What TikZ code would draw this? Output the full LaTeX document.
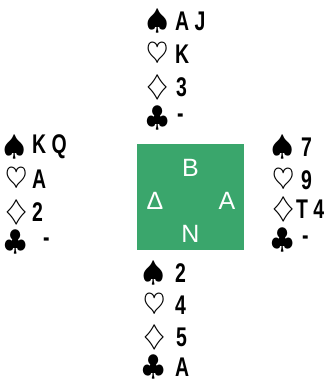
\documentclass[tikz,border=0pt]{standalone}
\usepackage{fontspec}
\newfontfamily\cardfont[FakeStretch=0.72]{Liberation Sans}
\newfontfamily\seatfont{Liberation Sans}
\definecolor{tablegreen}{RGB}{58,166,108}
\begin{document}
\begin{tikzpicture}[x=1pt,y=-1pt,
  suit/.style={inner sep=0pt,anchor=center,scale=1.15,font=\fontsize{24}{24}\selectfont},
  cards/.style={inner sep=0pt,anchor=west,font=\cardfont\bfseries\fontsize{27}{27}\selectfont},
  seat/.style={inner sep=0pt,anchor=center,text=white,font=\seatfont\fontsize{25}{25}\selectfont}]
\useasboundingbox (0,0) rectangle (331,379);
% table
\fill[tablegreen] (137,144) rectangle (244,250);
\node[seat] (sB) at (190.5,168) {Β};
\node[seat] (sD) at (155,201) {Δ};
\node[seat] (sA) at (227,201) {Α};
\node[seat] (sN) at (190.5,234) {Ν};
% North
\node[suit] (ns) at (158,21) {$\spadesuit$};
\node[suit] (nh) at (158,54) {$\heartsuit$};
\node[suit] (nd) at (158,87) {$\diamondsuit$};
\node[suit] (nc) at (158,118) {$\clubsuit$};
\node[cards] (nst) at (175,21) {A J};
\node[cards] (nht) at (175,54) {K};
\node[cards] (ndt) at (176,87) {3};
\node[cards] (nct) at (177,118) {-};
% West
\node[suit] (ws) at (15,147) {$\spadesuit$};
\node[suit] (wh) at (17,179) {$\heartsuit$};
\node[suit] (wd) at (17,212) {$\diamondsuit$};
\node[suit] (wc) at (16,242) {$\clubsuit$};
\node[cards] (wst) at (32,147) {K Q};
\node[cards] (wht) at (32,179) {A};
\node[cards] (wdt) at (32,212) {2};
\node[cards] (wct) at (43,242) {-};
% East
\node[suit] (es) at (283,147) {$\spadesuit$};
\node[suit] (eh) at (284,180) {$\heartsuit$};
\node[suit] (ed) at (284,209) {$\diamondsuit$};
\node[suit] (ec) at (283,240) {$\clubsuit$};
\node[cards] (est) at (301,147) {7};
\node[cards] (eht) at (301,180) {9};
\node[cards] (edt) at (296,209) {T 4};
\node[cards] (ect) at (302,240) {-};
% South
\node[suit] (ss) at (154,273) {$\spadesuit$};
\node[suit] (sh) at (155,305) {$\heartsuit$};
\node[suit] (sd) at (155,337) {$\diamondsuit$};
\node[suit] (sc) at (154,367) {$\clubsuit$};
\node[cards] (sst) at (175,273) {2};
\node[cards] (sht) at (175,305) {4};
\node[cards] (sdt) at (176,337) {5};
\node[cards] (sct) at (175,367) {A};
\end{tikzpicture}
\end{document}
